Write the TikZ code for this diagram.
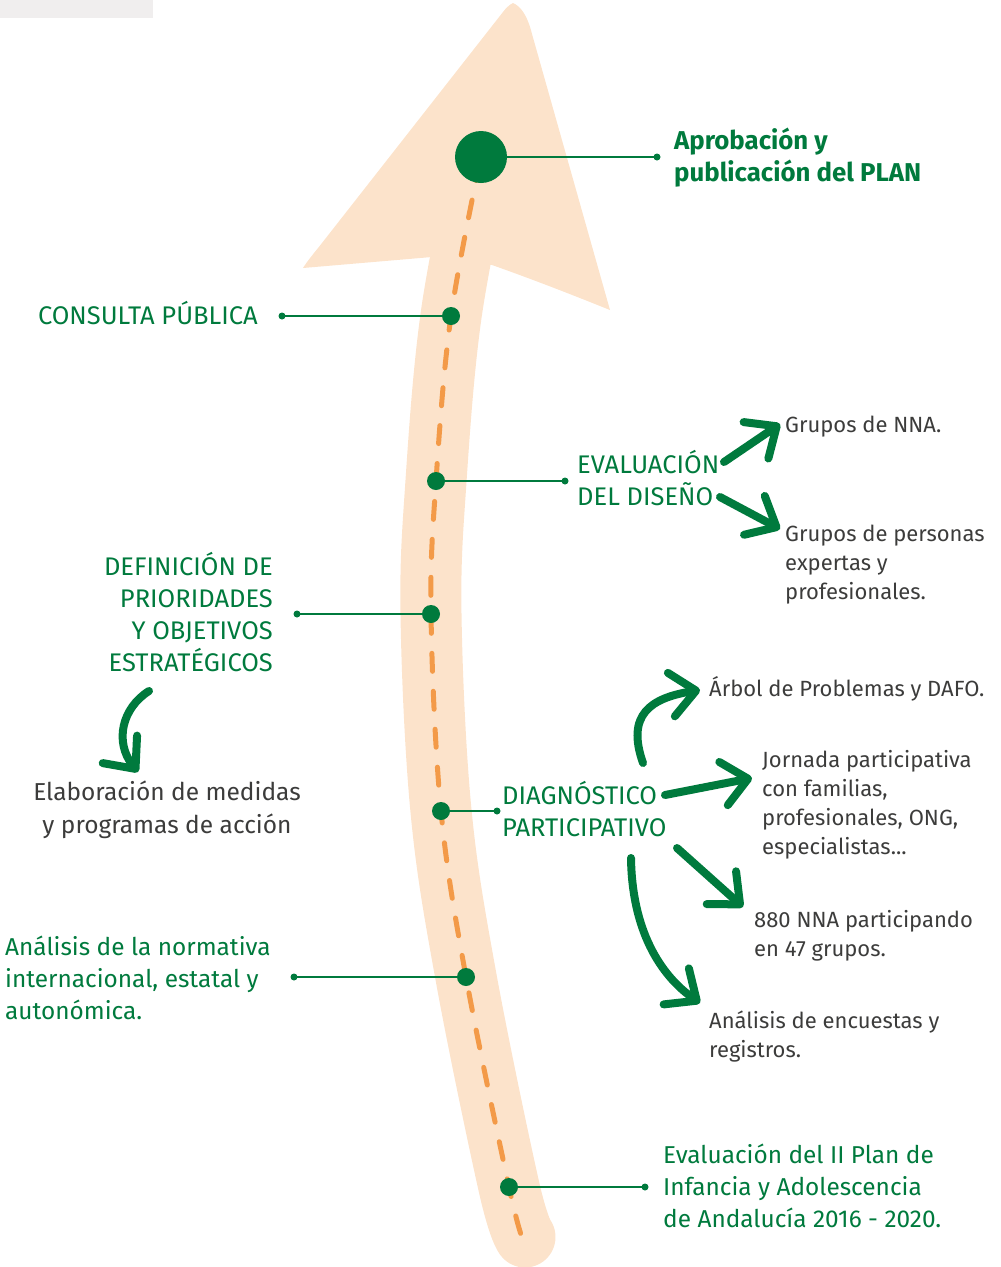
\documentclass[tikz,border=0pt]{standalone}
\usepackage{fontspec}
\setmainfont{Fira Sans}
\usetikzlibrary{arrows.meta}
\definecolor{grn}{HTML}{007A3D}
\definecolor{peach}{HTML}{FCE3CB}
\definecolor{orng}{HTML}{F39A48}
\definecolor{dark}{HTML}{3C3C3B}
\definecolor{graybox}{HTML}{F0EEEE}
\tikzset{
  bigdot/.style={circle,fill=grn,inner sep=0pt,minimum size=52pt},
  dot/.style={circle,fill=grn,inner sep=0pt,minimum size=18pt},
  enddot/.style={circle,fill=grn,inner sep=0pt,minimum size=7pt},
  conn/.style={draw=grn,line width=2pt},
  gcaps/.style={text=grn,inner sep=0pt,font=\fontsize{25.5}{32}\selectfont},
  gtext/.style={text=grn,inner sep=0pt,font=\fontsize{24.4}{32}\selectfont},
  dtext/.style={text=dark,inner sep=0pt,font=\fontsize{24.5}{33}\selectfont},
  stext/.style={text=dark,inner sep=0pt,font=\fontsize{22}{29}\selectfont,align=left,anchor=west},
  garrow/.style={draw=grn,line width=8pt,line cap=round,
     -{Straight Barb[length=25pt,width=44pt,round]}},
}
\begin{document}
\begin{tikzpicture}[x=1pt,y=-1pt]
\useasboundingbox (0,0) rectangle (1001,1267);
\fill[graybox] (0,0) rectangle (153,18);
% band
\draw[peach,line width=61pt,line cap=round] plot[smooth,tension=0.6] coordinates
  {(481,157) (451,316) (436,481) (431,614) (441,811) (466,977) (509,1187) (525,1237)};
% arrow head
\fill[peach] (303,268) -- (432,257) -- (492,265) .. controls (540,282) and (580,298) .. (610,310)
  -- (532,34) .. controls (527,14) and (520,6) .. (513,3) .. controls (509,5) and (506,8) .. (503,12)
  -- (322,243) .. controls (315,252) and (308,260) .. (303,268) -- cycle;
% dashed
\draw[orng,line width=5pt,line cap=round,dash pattern=on 18pt off 20pt,dash phase=-6pt]
  plot[smooth,tension=0.6] coordinates
  {(481,157) (451,316) (436,481) (431,614) (441,811) (466,977) (509,1187) (523,1240)};
% dots
\node[bigdot] (p0) at (481,157) {};
\node[dot] (p1) at (451,316) {};
\node[dot] (p2) at (436,481) {};
\node[dot] (p3) at (431,614) {};
\node[dot] (p4) at (441,811) {};
\node[dot] (p5) at (466,977) {};
\node[dot] (p6) at (509,1187) {};
\node[enddot] (e0) at (657,157) {};
\node[enddot] (e1) at (282,316) {};
\node[enddot] (e2) at (565,481) {};
\node[enddot] (e3) at (297,614) {};
\node[enddot] (e4) at (497,811) {};
\node[enddot] (e5) at (294,977) {};
\node[enddot] (e6) at (645,1187) {};
\foreach \i in {0,...,6} \draw[conn] (p\i.center) -- (e\i.center);
% texts
\node[gtext,font=\fontsize{25.8}{32}\selectfont\bfseries,align=left,anchor=west] (tAprob) at (674,158) {Aprobación y\\publicación del PLAN};
\node[gcaps,anchor=east] (tCons) at (258,313) {CONSULTA PÚBLICA};
\node[gcaps,align=left,anchor=west] (tEval) at (577,478) {EVALUACIÓN\\DEL DISEÑO};
\node[gcaps,align=right,anchor=east] (tDef) at (273,612) {DEFINICIÓN DE\\PRIORIDADES\\Y OBJETIVOS\\ESTRATÉGICOS};
\node[dtext,align=center,anchor=center] (tElab) at (167,810) {Elaboración de medidas\\y programas de acción};
\node[gcaps,align=left,anchor=west] (tDiag) at (502,809) {DIAGNÓSTICO\\PARTICIPATIVO};
\node[gtext,align=left,anchor=west] (tNorm) at (5,978) {Análisis de la normativa\\internacional, estatal y\\autonómica.};
\node[gtext,align=left,anchor=west] (tEvII) at (663,1186) {Evaluación del II Plan de\\Infancia y Adolescencia\\de Andalucía 2016 - 2020.};
\node[stext] (tNNA) at (785,427) {Grupos de NNA.};
\node[stext] (tExp) at (785,565) {Grupos de personas\\expertas y\\profesionales.};
\node[stext] (tArb) at (709,689) {Árbol de Problemas y DAFO.};
\node[stext] (tJor) at (762,805) {Jornada participativa\\con familias,\\profesionales, ONG,\\especialistas...};
\node[stext] (t880) at (754,936) {880 NNA participando\\en 47 grupos.};
\node[stext] (tEnc) at (709,1037) {Análisis de encuestas y\\registros.};
% green arrows
\coordinate (a1s) at (724,462); \coordinate (a1e) at (780,424);
\coordinate (a2s) at (720,497); \coordinate (a2e) at (780,529);
\draw[garrow] (a1s) -- (a1e);
\draw[garrow] (a2s) -- (a2e);
\coordinate (d0s) at (149,691); \coordinate (d0e) at (138,772);
\draw[garrow] (d0s) .. controls (122,708) and (114,742) .. (d0e);
\coordinate (g1s) at (643,763); \coordinate (g1e) at (700,690);
\draw[garrow] (g1s) .. controls (626,715) and (650,698) .. (g1e);
\coordinate (g2s) at (665,795); \coordinate (g2e) at (752,778);
\draw[garrow] (g2s) -- (g2e);
\coordinate (g3s) at (677,848); \coordinate (g3e) at (743,907);
\draw[garrow] (g3s) -- (g3e);
\coordinate (g4s) at (631,858); \coordinate (g4e) at (700,1003);
\draw[garrow] (g4s) .. controls (632,930) and (660,975) .. (g4e);
\end{tikzpicture}
\end{document}
